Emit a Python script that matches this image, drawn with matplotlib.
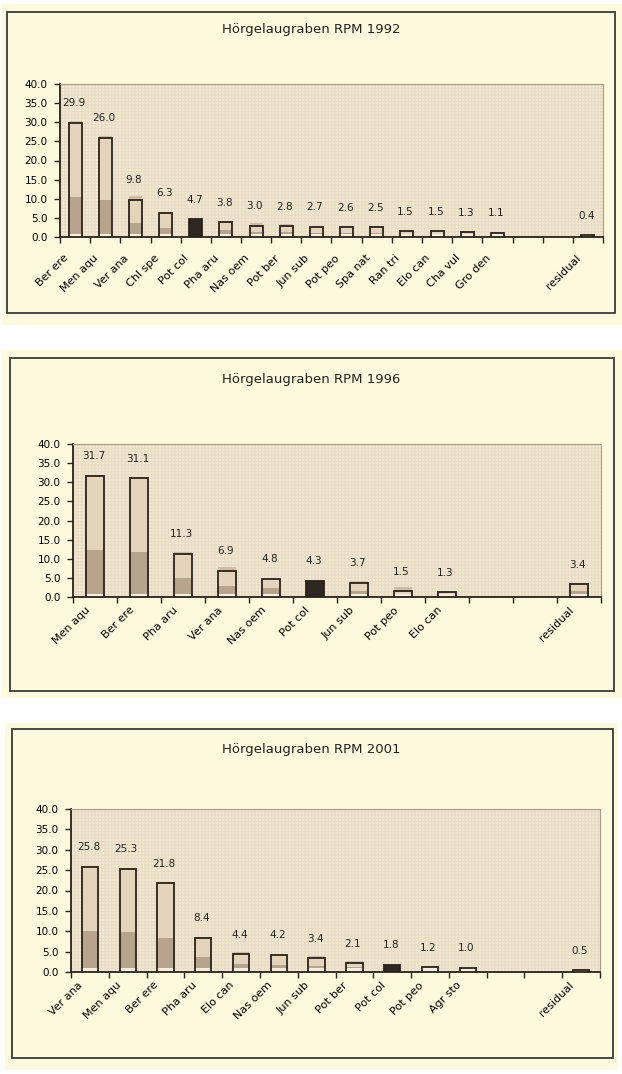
import matplotlib
matplotlib.use("Agg")
import matplotlib.pyplot as plt
import matplotlib.transforms as mtransforms
from matplotlib.patches import Rectangle
import numpy as np

plt.rcParams.update({"font.family": ["DejaVu Sans"], "font.size": 8})

nan = np.nan

# ---- data ----
cats_1992 = ["Ber ere", "Men aqu", "Ver ana", "Chl spe", "Pot col", "Pha aru", "Nas oem", "Pot ber",
             "Jun sub", "Pot peo", "Spa nat", "Ran tri", "Elo can", "Cha vul", "Gro den", "", "", "residual"]
vals_1992 = [29.9, 26.0, 9.8, 6.3, 4.7, 3.8, 3.0, 2.8, 2.7, 2.6, 2.5, 1.5, 1.5, 1.3, 1.1, nan, nan, 0.4]
dark_1992 = [10.5, 9.7, 3.7, 2.3, 0, 1.8, 1.3, 1.2, 1.0, 1.0, 1.0, 0, 0, 0, 0, nan, nan, 0]
shade_1992 = [30.4, 26.4, 10.6, 6.6, 0, 4.3, 3.6, 3.5, 2.7, 2.9, 2.8, 1.6, 1.7, 1.5, 1.3, nan, nan, 0.5]

cats_1996 = ["Men aqu", "Ber ere", "Pha aru", "Ver ana", "Nas oem", "Pot col", "Jun sub", "Pot peo",
             "Elo can", "", "", "residual"]
vals_1996 = [31.7, 31.1, 11.3, 6.9, 4.8, 4.3, 3.7, 1.5, 1.3, nan, nan, 3.4]
dark_1996 = [12.3, 11.8, 5.0, 3.0, 2.3, 0, 1.5, 0, 0, nan, nan, 1.5]
shade_1996 = [32.0, 31.4, 11.8, 7.9, 4.8, 0, 4.1, 2.6, 1.3, nan, nan, 3.7]

cats_2001 = ["Ver ana", "Men aqu", "Ber ere", "Pha aru", "Elo can", "Nas oem", "Jun sub", "Pot ber",
             "Pot col", "Pot peo", "Agr sto", "", "", "residual"]
vals_2001 = [25.8, 25.3, 21.8, 8.4, 4.4, 4.2, 3.4, 2.1, 1.8, 1.2, 1.0, nan, nan, 0.5]
dark_2001 = [10.0, 9.7, 8.3, 3.8, 2.0, 1.8, 1.4, 1.2, 0, 0, 0, nan, nan, 0]
shade_2001 = [26.1, 25.6, 22.1, 8.6, 5.0, 4.3, 3.9, 2.7, 1.8, 1.2, 1.0, nan, nan, 0.7]

yticks = [0, 5, 10, 15, 20, 25, 30, 35, 40]

W, H = 622, 1074
PANEL_BG, BORDER, PLOT_BG, DOTS = "#fdf9dc", "#3a3a3a", "#f4ebd5", "#e8dcc4"
CREAM, LIGHT, DARK, SHADOW, EDGE, HILITE = "#f7f0e0", "#e4d4bc", "#b7a48d", "#d0bca2", "#2a221c", "#2e2621"

fig = plt.figure(figsize=(W / 100, H / 100), dpi=100, facecolor="white")


def fig_rect(x0, y0, x1, y1):
    return [x0 / W, 1 - y1 / H, (x1 - x0) / W, (y1 - y0) / H]


def panel(bg, border, axbox, title, title_y, cats, vals, dark, shade, dx, dy):
    b = fig_rect(*bg)
    fig.add_artist(Rectangle((b[0], b[1]), b[2], b[3], transform=fig.transFigure,
                             facecolor=PANEL_BG, edgecolor="none", zorder=0))
    b = fig_rect(*border)
    fig.add_artist(Rectangle((b[0], b[1]), b[2], b[3], transform=fig.transFigure,
                             facecolor="none", edgecolor=BORDER, lw=1.3, zorder=1))
    fig.text(311 / W, 1 - title_y / H, title, ha="center", va="center", fontsize=9.5, color="#222")

    ax = fig.add_axes(fig_rect(*axbox))
    ax.set_facecolor(PLOT_BG)
    ax.add_patch(Rectangle((0, 0), 1, 1, transform=ax.transAxes, facecolor="none",
                           edgecolor=DOTS, hatch="+++++", lw=0, zorder=0))
    n = len(cats)
    x = np.arange(n)
    v = np.array(vals, float)
    d = np.array(dark, float)
    s = np.array(shade, float)
    w = 0.43
    base = 0.9
    hi = np.array([c == "Pot col" for c in cats])

    ax.bar(x, s, width=w, color=SHADOW, zorder=2)
    ax.bar(x, v, width=w, color=np.where(hi, HILITE, CREAM), zorder=3)
    inner = np.where(hi, nan, np.clip(v - base, 0, None))
    ax.bar(x, inner, bottom=base, width=w, color=LIGHT, zorder=3.2)
    dk = np.where(hi, nan, np.clip(d - base, 0, None))
    ax.bar(x, dk, bottom=base, width=w, color=DARK, zorder=3.4)
    ax.bar(x, v, width=w, facecolor="none", edgecolor=EDGE, lw=1.3, zorder=4)

    for xi, vi in zip(x, v):
        if np.isnan(vi):
            continue
        ax.annotate(f"{vi:.1f}", (xi, vi), xytext=(-1, 14), textcoords="offset points",
                    ha="center", va="center", fontsize=7.5, color="#222")

    ax.set_xlim(-0.5, n - 0.5)
    ax.set_ylim(0, 40)
    ax.set_yticks(yticks)
    ax.set_yticklabels([f"{t:.1f}" for t in yticks])
    ax.set_xticks(x)
    ax.set_xticklabels(cats, rotation=45, ha="right", va="top", rotation_mode="anchor", fontsize=8)
    ax.set_xticks(np.arange(n + 1) - 0.5, minor=True)
    ax.tick_params(axis="x", which="major", length=0, pad=0)
    ax.tick_params(axis="x", which="minor", length=4, width=1, color=EDGE, direction="out")
    ax.tick_params(axis="y", length=4, width=1, color=EDGE, pad=5, labelsize=7.5)
    off = mtransforms.ScaledTranslation(dx / 100, -dy / 100, fig.dpi_scale_trans)
    for lab in ax.get_xticklabels():
        lab.set_transform(lab.get_transform() + off)
    for side in ("left", "bottom"):
        ax.spines[side].set_color(EDGE)
        ax.spines[side].set_linewidth(1.3)
    for side in ("top", "right"):
        ax.spines[side].set_color("#a89a86")
        ax.spines[side].set_linewidth(0.8)
    return ax


panel((2, 4, 622, 325), (7, 12, 615, 313), (60, 84, 603, 237), "Hörgelaugraben RPM 1992", 29,
      cats_1992, vals_1992, dark_1992, shade_1992, -12, 16)
panel((2, 350, 622, 698), (10, 358, 614, 691), (73, 444, 601, 597), "Hörgelaugraben RPM 1996", 380,
      cats_1996, vals_1996, dark_1996, shade_1996, -10, 8)
panel((5, 723, 618, 1070), (12, 729, 613, 1058), (71, 809, 600, 972), "Hörgelaugraben RPM 2001", 750,
      cats_2001, vals_2001, dark_2001, shade_2001, -12, 8)

fig.savefig("out.png", dpi=100, facecolor="white")
